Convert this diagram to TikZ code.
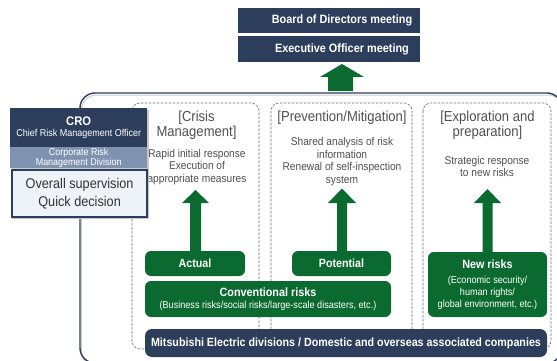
\documentclass[tikz,border=0pt]{standalone}
\usepackage{fontspec}
\setmainfont{Liberation Sans}[FakeStretch=0.9]
\definecolor{navy}{HTML}{2C3E5C}
\definecolor{dgreen}{HTML}{0B6A30}
\definecolor{strip}{HTML}{7F92B0}
\definecolor{lightbox}{HTML}{EEF2F9}
\definecolor{gtext}{HTML}{505050}
\definecolor{dashc}{HTML}{707070}
\newcommand{\fsA}{\fontsize{12}{14}\selectfont\bfseries}
\newcommand{\fsB}{\fontsize{10.1}{12.2}\selectfont\mdseries}
\begin{document}
\begin{tikzpicture}[x=1pt,y=-1pt,
  navybox/.style={fill=navy,text=white,inner sep=0pt},
  greenbox/.style={fill=dgreen,text=white,rounded corners=6pt,inner sep=0pt},
  colframe/.style={draw=dashc,dashed,dash pattern=on 2.5pt off 1.5pt,line width=0.6pt,rounded corners=8pt},
  gtitle/.style={text=gtext,font=\fontsize{14.5}{15}\selectfont,align=center},
  gdesc/.style={text=gtext,font=\fontsize{11.3}{12.8}\selectfont,align=center},
  blockarrow/.style={fill=dgreen}]
\useasboundingbox (0,0) rectangle (557,361);
\clip (0,0) rectangle (557,361);
\fill[white] (0,0) rectangle (557,361);
% outer frame
\draw[draw=black!20,line width=1pt,rounded corners=15pt] (81.5,95) rectangle (563.5,366);
\draw[draw=navy,line width=1.4pt,rounded corners=15pt] (80,93) rectangle (562,363);
% dashed columns
\draw[colframe] (132,103) rectangle (259,349);
\draw[colframe] (271,103) rectangle (412,349);
\draw[colframe] (423,103) rectangle (551,349);
% column texts
\node[gtitle] (t1) at (196.5,125.5) {[Crisis\\Management]};
\node[gtitle] (t2) at (342,118) {[Prevention/Mitigation]};
\node[gtitle] (t3) at (487.5,125.5) {[Exploration and\\preparation]};
\node[gdesc] (d1) at (197,167) {Rapid initial response\\Execution of\\appropriate measures};
\node[gdesc] (d2) at (342,161.5) {Shared analysis of risk\\information\\Renewal of self-inspection\\system};
\node[gdesc] (d3) at (487,166.5) {Strategic response\\to new risks};
% green boxes
\node[greenbox,minimum width=100pt,minimum height=25pt,font=\fontsize{11.9}{14}\selectfont\bfseries] (actual) at (195,263.5) {Actual};
\node[greenbox,minimum width=99pt,minimum height=25pt,font=\fontsize{11.9}{14}\selectfont\bfseries] (potential) at (341.5,263.5) {Potential};
\node[greenbox,minimum width=246pt,minimum height=36pt,align=center] (conv) at (268,299)
  {\fsA Conventional risks\\[0.5pt]\fsB (Business risks/social risks/large-scale disasters, etc.)};
\node[greenbox,minimum width=119pt,minimum height=65pt,align=center] (newr) at (487.5,284.5)
  {\fsA New risks\\[2.5pt]\fsB (Economic security/\\\fsB human rights/\\\fsB global environment, etc.)};
% navy bottom box
\node[navybox,rounded corners=7pt,minimum width=402pt,minimum height=28pt,font=\fontsize{11.9}{14}\selectfont\bfseries] (mits) at (346,343)
  {Mitsubishi Electric divisions / Domestic and overseas associated companies};
% block arrows
\fill[blockarrow] (190,251) -- (190,203) -- (182,203) -- (195.5,190) -- (209,203) -- (201,203) -- (201,251) -- cycle;
\fill[blockarrow] (337,251) -- (337,203) -- (328,203) -- (342,188.5) -- (356,203) -- (347,203) -- (347,251) -- cycle;
\fill[blockarrow] (482.5,252) -- (482.5,203) -- (474,203) -- (487.5,189) -- (501,203) -- (492.5,203) -- (492.5,252) -- cycle;
\fill[blockarrow] (328,91) -- (328,77) -- (320,77) -- (342,64) -- (364,77) -- (353,77) -- (353,91) -- cycle;
% CRO box
\fill[black!22] (12,110) rectangle (149,219);
\node[navybox,anchor=north west,minimum width=137pt,minimum height=39pt,align=center] (cro) at (10,108)
  {\fontsize{12.5}{15}\selectfont\bfseries CRO\\[-1pt]\fontsize{10}{12}\selectfont\mdseries Chief Risk Management Officer};
\node[fill=strip,text=white,anchor=north west,minimum width=137pt,minimum height=21pt,inner sep=0pt,align=center,font=\fontsize{9.9}{8.8}\selectfont] (crm) at (10,147)
  {Corporate Risk\\Management Division};
\node[fill=lightbox,draw=navy,line width=2.2pt,anchor=north west,minimum width=134.8pt,minimum height=47pt,inner sep=0pt,align=center,text=black!80,font=\fontsize{14.1}{18.5}\selectfont] (sup) at (11.1,169.1)
  {Overall supervision\\Quick decision};
% top boxes
\node[navybox,minimum width=182pt,minimum height=25pt,font=\fontsize{12.1}{14}\selectfont\bfseries] (board) at (329,20.5) {\hspace*{26pt}Board of Directors meeting};
\node[navybox,minimum width=182pt,minimum height=26pt,font=\fontsize{12.1}{14}\selectfont\bfseries] (exec) at (329,49) {\hspace*{26pt}Executive Officer meeting};
\end{tikzpicture}
\end{document}
